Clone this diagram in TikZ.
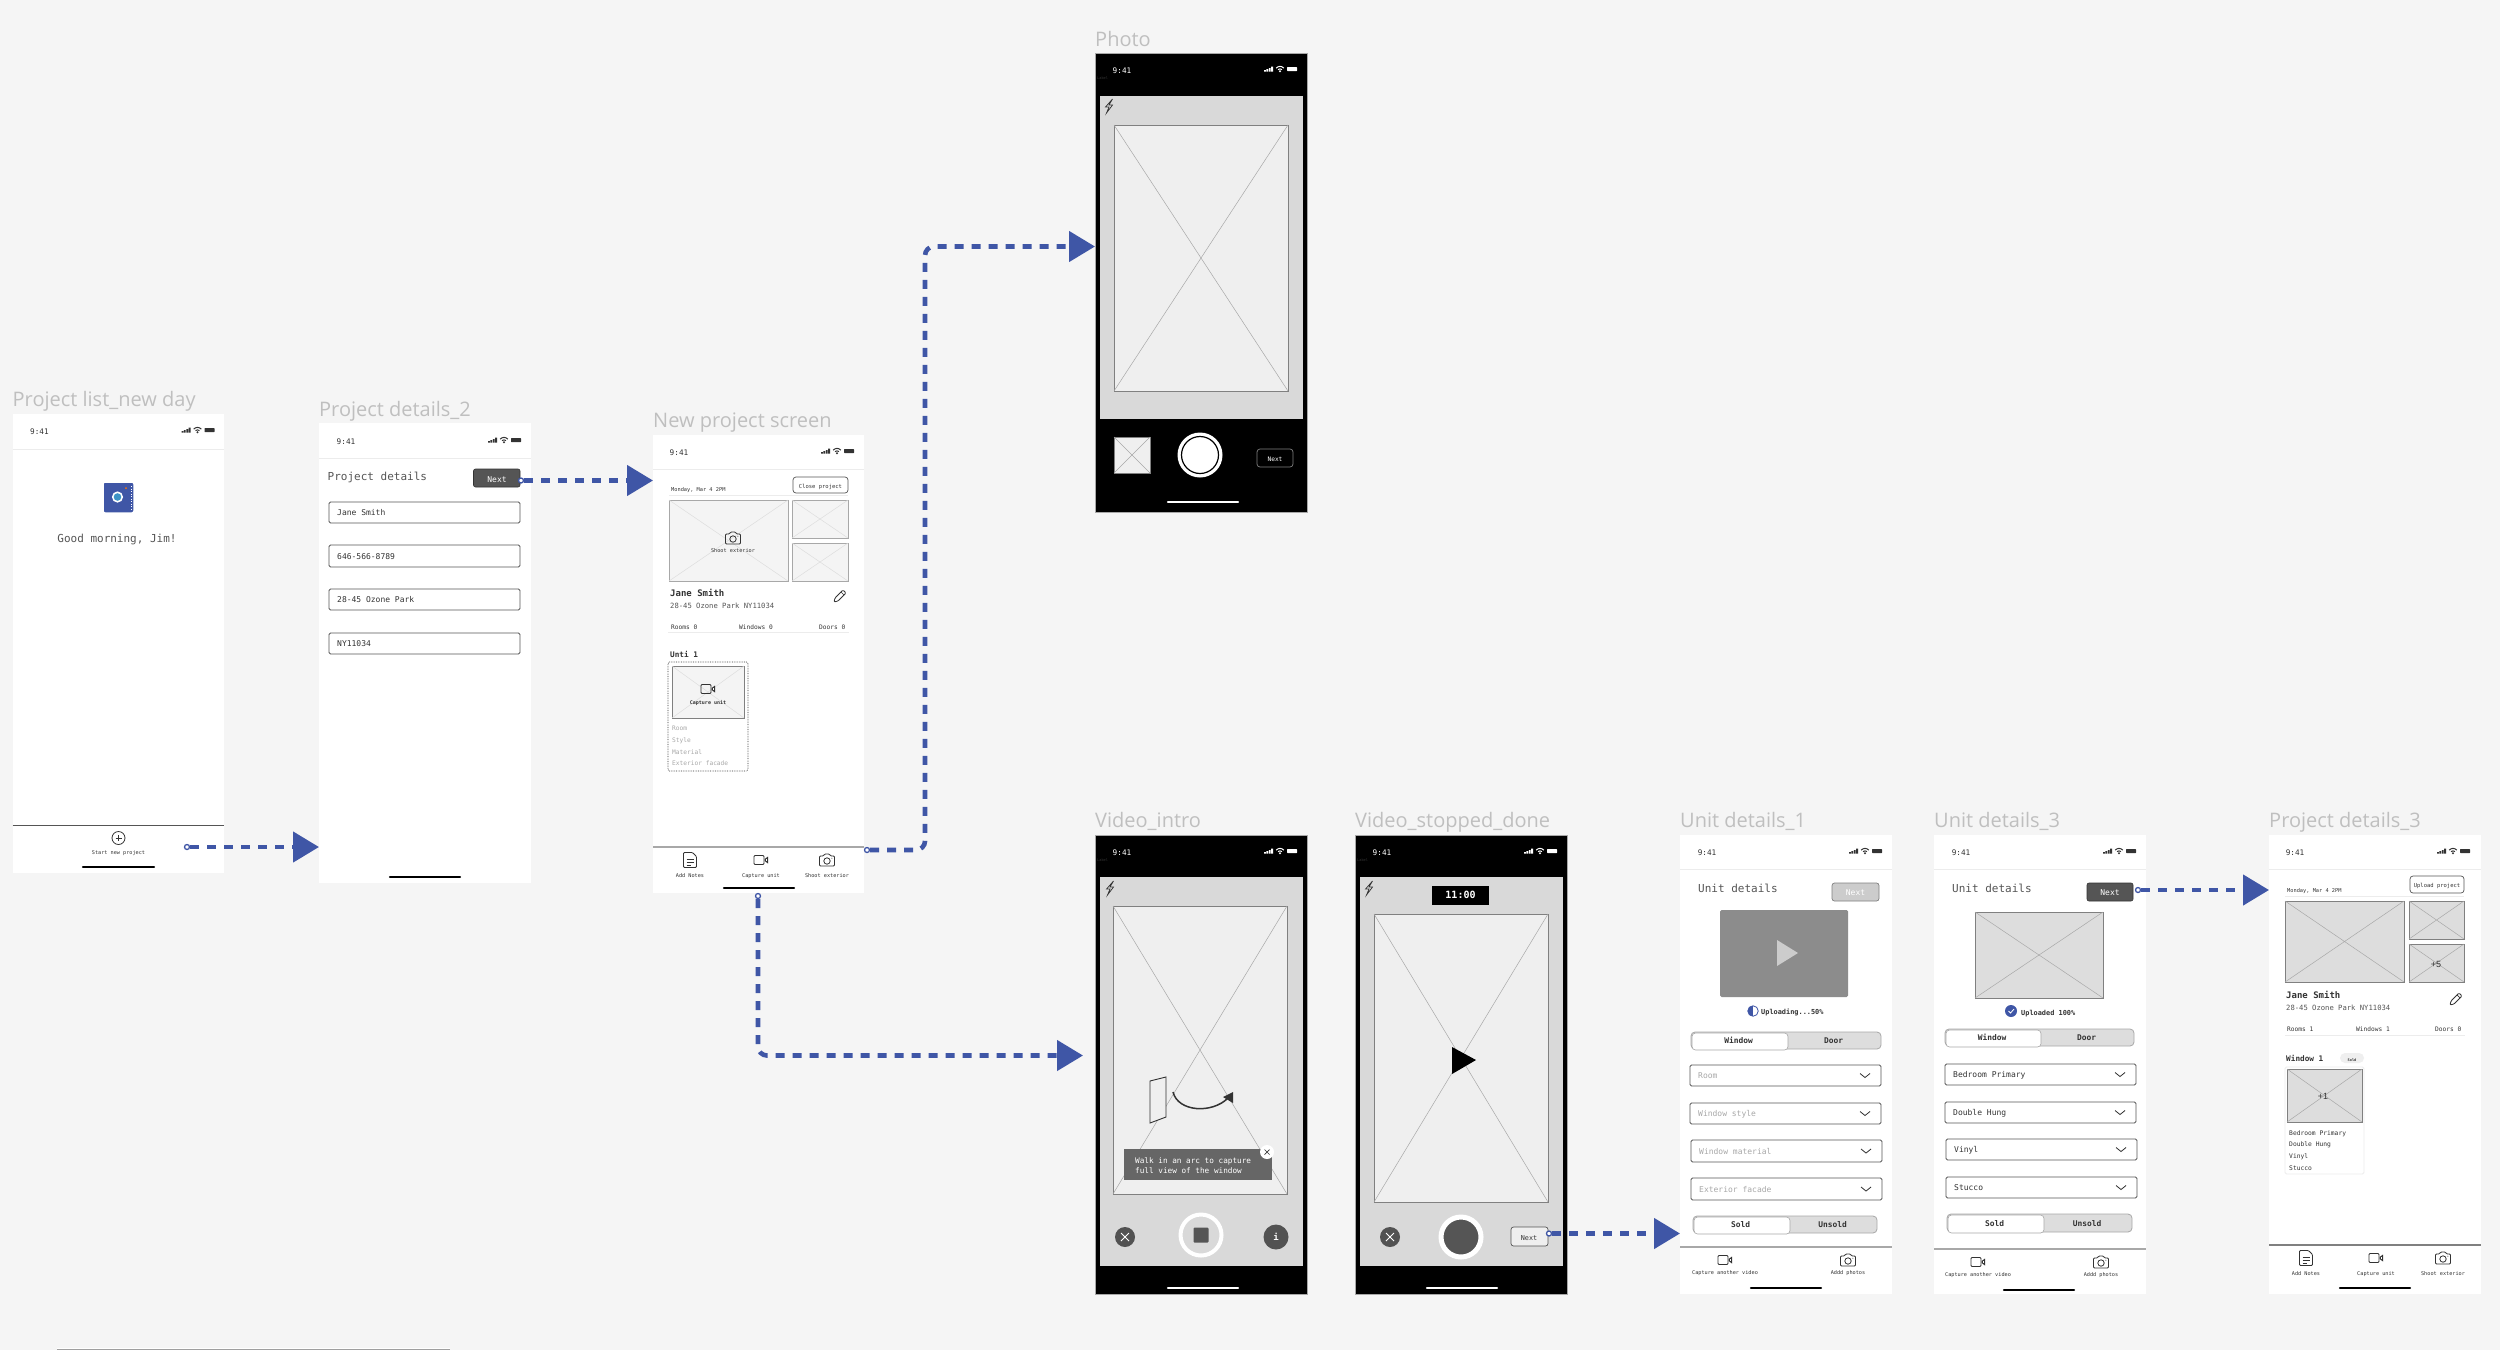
\documentclass[tikz,border=0pt]{standalone}
\usepackage{fontspec}
\setmainfont{Liberation Sans}
\newfontfamily\wfmono{DejaVu Sans Mono}
\newfontfamily\wflabel{Open Sans}
\usetikzlibrary{arrows.meta,calc}
\definecolor{canvas}{HTML}{F5F5F5}
\definecolor{flow}{HTML}{3F56A6}
\definecolor{lab}{HTML}{BFBFBF}
\definecolor{ink}{HTML}{333333}
\definecolor{soft}{HTML}{A8A8A8}
\definecolor{dk}{HTML}{555555}
\definecolor{rule}{HTML}{ECECEC}
\definecolor{pane}{HTML}{D9D9D9}
\definecolor{phlight}{HTML}{EFEFEF}
\definecolor{phpale}{HTML}{F4F4F4}
\definecolor{phmid}{HTML}{DDDDDD}
\tikzset{
  wire/.style={draw=flow,line width=4.6pt,dash pattern=on 9pt off 8pt,-{Triangle[length=26pt,width=30pt]},rounded corners=9pt},
  startdot/.style={circle,fill=white,draw=flow,line width=1.3pt,inner sep=0,minimum size=5pt},
  screenw/.style={fill=white},
  screenk/.style={fill=black,draw=soft,line width=.5pt},
  icon/.style={draw=#1,line width=.8pt,rounded corners=1pt,fill=none},
  icon/.default=ink,
  hbar/.style={line width=2.4pt,line cap=round},
  phthin/.style={line width=.5pt},
  fieldbox/.style={fill=white,draw=dk,line width=.8pt,rounded corners=1.5pt},
  btndark/.style={fill=dk,draw=ink,line width=.6pt,rounded corners=2pt},
  btnline/.style={fill=white,draw=dk,line width=.7pt,rounded corners=3pt},
}
% name, size, x, y, anchor, colour, text
\newcommand\tx[7]{\node[inner sep=0,yshift=-.6pt,anchor=#5,text=#6,font=\wfmono\fontsize{#2}{#2}\selectfont] (#1) at ({#3},{#4}) {#7};}
\newcommand\tb[7]{\node[inner sep=0,yshift=-.6pt,anchor=#5,text=#6,font=\wfmono\bfseries\fontsize{#2}{#2}\selectfont] (#1) at ({#3},{#4}) {#7};}
\newcommand\slabel[4]{\node[inner sep=0,yshift=-4.5pt,anchor=mid west,text=lab,font=\wflabel\fontsize{20}{20}\selectfont] (#1) at (#2,#3) {#4};}
% name, x1,y1,x2,y2, style
\newcommand\bx[6]{\pgfmathsetmacro\bw{#4-#2}\pgfmathsetmacro\bh{#5-#3}%
  \node[inner sep=0,outer sep=0,minimum width=\bw pt,minimum height=\bh pt,anchor=north west,#6] (#1) at ({#2},{#3}) {};}
% placeholder: name,x1,y1,x2,y2,fill,border,diagonal
\newcommand\ph[8]{\bx{#1}{#2}{#3}{#4}{#5}{fill=#6,draw=#7,line width=.8pt}%
  \draw[phthin,draw=#8] (#1.north west) -- (#1.south east) (#1.north east) -- (#1.south west);}
\newcommand\stat[4]{% prefix,x,y,colour
  \tx{#1time}{7.7}{#2+27}{#3+17}{mid}{#4}{9:41}
  \begin{scope}[shift={({#2+174},{#3+16})}]
    \fill[#4] (-5,2.5) rectangle (-3.2,1) (-2.6,2.5) rectangle (-.8,.2) (-.2,2.5) rectangle (1.6,-1) (2.2,2.5) rectangle (4,-2.5);
  \end{scope}
  \begin{scope}[shift={({#2+185},{#3+16})}]
    \draw[#4,line width=1pt] (-3.8,-.9) .. controls (-1.6,-3.2) and (1.6,-3.2) .. (3.8,-.9);
    \draw[#4,line width=1pt] (-2,.6) .. controls (-.8,-.4) and (.8,-.4) .. (2,.6);
    \fill[#4] (0,2.2) circle (1.1pt);
  \end{scope}
  \fill[#4,rounded corners=.7pt] ({#2+192},{#3+14}) rectangle ({#2+202},{#3+18.2});
}
\newcommand\camicon[2]{\begin{scope}[shift={(#1,#2)}]
  \draw[icon] (-7.5,-4) -- (-3.5,-4) -- (-2.5,-6) -- (2.5,-6) -- (3.5,-4) -- (7.5,-4) -- (7.5,6) -- (-7.5,6) -- cycle;
  \draw[icon] (0,1) circle (3.2pt);
  \fill[ink] (4.8,-1.8) circle (.5pt);
\end{scope}}
\newcommand\vidicon[2]{\begin{scope}[shift={(#1,#2)}]
  \draw[icon] (-7,-4.5) rectangle (3,4.5);
  \fill[ink] (3.6,-1) -- (7,-3.5) -- (7,3.5) -- (3.6,1) -- cycle;
  \fill[white] (5.4,-1.2) rectangle (6.3,1.2);
\end{scope}}
\newcommand\noteicon[2]{\begin{scope}[shift={(#1,#2)}]
  \draw[icon] (-6.5,-7.5) -- (2.5,-7.5) -- (6.5,-3.5) -- (6.5,7.5) -- (-6.5,7.5) -- cycle;
  \draw[ink,line width=.7pt] (-3.5,-1) -- (3.5,-1) (-3.5,2) -- (3.5,2) (-3.5,5) -- (.5,5);
\end{scope}}
\newcommand\pencil[2]{\begin{scope}[shift={(#1,#2)}]
  \draw[icon] (-6,6) -- (-5,2) -- (3,-6) -- (6,-3) -- (-2,5) -- cycle;
  \draw[ink,line width=.7pt] (1,-4) -- (4,-1);
\end{scope}}
\newcommand\flash[2]{\begin{scope}[shift={(#1,#2)}]
  \draw[ink,line width=.7pt,line join=miter] (3.5,-7) -- (-3.5,1) -- (0,1) -- (-2.5,7) -- (3.5,-1) -- (0,-1) -- cycle;
\end{scope}}
% name,x1,y1,x2,y2,text colour,text
\newcommand\field[7]{\bx{#1}{#2}{#3}{#4}{#5}{fieldbox}%
  \tx{#1t}{8}{#2+8}{(#3+#5)/2}{mid west}{#6}{#7}}
\newcommand\fieldc[7]{\field{#1}{#2}{#3}{#4}{#5}{#6}{#7}%
  \draw[ink,line width=.8pt] ($(#1.east)+(-21,-2)$) -- ($(#1.east)+(-16,2)$) -- ($(#1.east)+(-11,-2)$);}
% name,x1,y1,x2,y2,split,left,right
\newcommand\toggle[8]{\bx{#1}{#2}{#3}{#4}{#5}{fill=phmid,draw=soft,line width=.8pt,rounded corners=4pt}%
  \bx{#1w}{#2+1}{#3+1}{#6}{#5-1}{fill=white,draw=soft,line width=.6pt,rounded corners=3.5pt}%
  \tb{#1l}{7.9}{(#2+#6)/2}{(#3+#5)/2}{mid}{ink}{#7}
  \tb{#1r}{7.9}{(#6+#4)/2}{(#3+#5)/2}{mid}{ink}{#8}}
\begin{document}
\begin{tikzpicture}[x=1pt,y=-1pt]
\path[use as bounding box,fill=canvas] (0,0) rectangle (2500,1350);
\fill[white] (57,1348) rectangle (450,1349);
\fill[gray!75] (57,1348.6) rectangle (450,1350);

%%% Screen 1
\slabel{l1}{12.5}{399}{Project list\_new day}
\bx{s1}{12.5}{414}{224}{873}{screenw}
\stat{a}{12.5}{414}{ink}
\draw[rule,line width=1pt] (12.5,449) -- (224,449);
\bx{logo}{103}{482}{134}{513}{fill=flow,draw=white,line width=1.5pt,rounded corners=2pt}
\fill[white] (117.5,497) circle (5.6pt);
\fill[cyan!55!flow] (117.5,497) circle (3.8pt);
\fill[orange!90!red] (126,488) circle (1pt);
\draw[white,line width=.7pt,dash pattern=on 1pt off 1.5pt] (131.5,486) -- (131.5,510);
\tx{a1}{11}{117}{539}{mid}{dk}{Good morning, Jim!}
\draw[dk,line width=1pt] (12.5,825) -- (224,825);
\node[circle,draw=ink,line width=.8pt,inner sep=0,minimum size=13pt] (aplus) at (118.5,838) {};
\draw[ink,line width=.7pt] (115.5,838) -- (121.5,838) (118.5,835) -- (118.5,841);
\tx{a2}{5.2}{118.5}{851}{mid}{ink}{Start new project}
\draw[hbar] (83,867) -- (154,867);

%%% Screen 2
\slabel{l2}{319}{409}{Project details\_2}
\bx{s2}{319}{423}{531}{883}{screenw}
\stat{b}{319}{424}{ink}
\draw[rule,line width=1pt] (319,458) -- (531,458);
\tx{b1}{11}{327.5}{477}{mid west}{dk}{Project details}
\bx{bnext}{473.5}{469}{520}{487}{btndark}
\tx{b2}{8}{497}{479}{mid}{white}{Next}
\field{bf1}{329}{502}{520}{523}{ink}{Jane Smith}
\field{bf2}{329}{545}{520}{567}{ink}{646-566-8789}
\field{bf3}{329}{589}{520}{610}{ink}{28-45 Ozone Park}
\field{bf4}{329}{633}{520}{654}{ink}{NY11034}
\draw[hbar] (390,877) -- (460,877);

%%% Screen 3
\slabel{l3}{653}{420}{New project screen}
\bx{s3}{653}{435}{864}{893}{screenw}
\stat{c}{652}{435}{ink}
\draw[rule,line width=1pt] (653,469) -- (864,469);
\tx{c1}{5.3}{671}{488}{mid west}{ink}{Monday, Mar 4 2PM}
\bx{cbtn}{793}{477}{848}{493}{btnline}
\tx{c2}{5.5}{820.5}{485}{mid}{ink}{Close project}
\draw[rule,line width=1pt] (669,495.5) -- (848,495.5);
\ph{cp1}{669}{500}{788}{581}{phpale}{soft}{phmid}
\ph{cp2}{792}{500}{848}{538}{phpale}{soft}{phmid}
\ph{cp3}{792}{543}{848}{581}{phpale}{soft}{phmid}
\camicon{733}{538}
\tx{c3}{5.2}{733}{549}{mid}{ink}{Shoot exterior}
\tb{c4}{9}{670}{593}{mid west}{ink}{Jane Smith}
\tx{c5}{7.2}{670}{605}{mid west}{dk}{28-45 Ozone Park NY11034}
\pencil{840}{596}
\tx{c6}{6.2}{671}{626}{mid west}{ink}{Rooms 0}
\tx{c7}{6.2}{739}{626}{mid west}{ink}{Windows 0}
\tx{c8}{6.2}{819}{626}{mid west}{ink}{Doors 0}
\draw[rule,line width=1pt] (668,632.5) -- (849,632.5);
\tb{c9}{7.7}{670}{654}{mid west}{ink}{Unti 1}
\bx{cdot}{668}{662}{748}{771}{draw=ink,line width=.7pt,densely dotted,rounded corners=1.5pt}
\ph{cp4}{672}{666}{744}{718}{phpale}{gray}{phmid}
\vidicon{708}{689}
\tb{c10}{5}{708}{701}{mid}{ink}{Capture unit}
\tx{c11}{6.2}{672}{727}{mid west}{soft}{Room}
\tx{c12}{6.2}{672}{739}{mid west}{soft}{Style}
\tx{c13}{6.2}{672}{751}{mid west}{soft}{Material}
\tx{c14}{6.2}{672}{762}{mid west}{soft}{Exterior facade}
\draw[soft,line width=1.4pt] (653,847) -- (864,847);
\noteicon{690}{860}
\vidicon{761}{860}
\camicon{827}{860}
\tx{c15}{5.2}{690}{874}{mid}{ink}{Add Notes}
\tx{c16}{5.2}{761}{874}{mid}{ink}{Capture unit}
\tx{c17}{5.2}{827}{874}{mid}{ink}{Shoot exterior}
\draw[hbar] (724,888) -- (794,888);

%%% Photo
\slabel{l4}{1095}{39}{Photo}
\bx{s4}{1095}{53}{1307}{512}{screenk}
\stat{d}{1095}{53}{white}
\tx{dl}{3.6}{1097}{76}{mid west}{ink}{Label}
\bx{dpane}{1100}{96}{1303}{419}{fill=pane}
\ph{dp}{1114}{125}{1288}{391}{phlight}{gray}{soft}
\flash{1109}{106}
\ph{dth}{1114}{437}{1150}{473}{phlight}{gray}{soft}
\node[circle,fill=white,inner sep=0,minimum size=45pt] (dsh) at (1200,455) {};
\draw[black,line width=1.2pt] (dsh.center) circle (18.5pt);
\bx{dnext}{1257}{449}{1293}{467}{draw=gray,line width=.7pt,rounded corners=3pt}
\tx{d2}{6.2}{1275}{458}{mid}{white}{Next}
\draw[hbar,white] (1168,502) -- (1238,502);

%%% Video intro
\slabel{l5}{1095}{820}{Video\_intro}
\bx{s5}{1095}{835}{1307}{1294}{screenk}
\stat{e}{1095}{835}{white}
\tx{el}{3.6}{1097}{858}{mid west}{ink}{Label}
\bx{epane}{1100}{877}{1303}{1266}{fill=pane}
\ph{ep}{1113}{906}{1287}{1194}{phlight}{gray}{soft}
\flash{1110}{888}
\draw[ink,line width=.9pt,fill=phlight] (1150,1081) -- (1166,1077) -- (1166,1117) -- (1150,1123) -- cycle;
\draw[ink,line width=1.5pt] (1173,1092) .. controls (1178,1112) and (1212,1114) .. (1228,1098);
\fill[ink] (1233,1092) -- (1233,1103) -- (1223,1097) -- cycle;
\bx{etip}{1124}{1149}{1272}{1180}{fill=dk!90!white}
\tx{e1}{7.7}{1135}{1160}{mid west}{white}{Walk in an arc to capture}
\tx{e2}{7.7}{1135}{1170}{mid west}{white}{full view of the window}
\node[circle,fill=white,inner sep=0,minimum size=14pt] (eclose) at (1267,1152) {};
\draw[ink,line width=.7pt] (1264.5,1149.5) -- (1269.5,1154.5) (1264.5,1154.5) -- (1269.5,1149.5);
\node[circle,fill=ink!85!white,inner sep=0,minimum size=20pt] (ex) at (1125,1237) {};
\draw[white,line width=.9pt] (1121,1233) -- (1129,1241) (1121,1241) -- (1129,1233);
\node[circle,draw=white,line width=4pt,inner sep=0,minimum size=41pt] (estop) at (1201,1235) {};
\bx{esq}{1193.5}{1227.5}{1208.5}{1242.5}{fill=dk,rounded corners=1pt}
\node[circle,fill=ink!85!white,inner sep=0,minimum size=25pt] (ei) at (1276,1237) {};
\tb{e3}{9}{1276}{1237}{mid}{white}{i}
\draw[hbar,white] (1168,1288) -- (1238,1288);

%%% Video stopped
\slabel{l6}{1355}{820}{Video\_stopped\_done}
\bx{s6}{1355}{835}{1567}{1294}{screenk}
\stat{f}{1355}{835}{white}
\tx{fl}{3.6}{1357}{858}{mid west}{ink}{Label}
\bx{fpane}{1360}{877}{1563}{1266}{fill=pane}
\ph{fp}{1374}{914}{1548}{1202}{phlight}{gray}{soft}
\flash{1369}{888}
\bx{ftm}{1432}{886}{1489}{905}{fill=black}
\tb{f1}{10}{1460.5}{895.5}{mid}{white}{11:00}
\fill[black] (1452,1047) -- (1452,1074) -- (1476,1060) -- cycle;
\node[circle,fill=ink!85!white,inner sep=0,minimum size=20pt] (fx) at (1390,1237) {};
\draw[white,line width=.9pt] (1386,1233) -- (1394,1241) (1386,1241) -- (1394,1233);
\node[circle,fill=dk,draw=white,line width=5pt,inner sep=0,minimum size=40pt] (fsh) at (1461,1237) {};
\bx{fnext}{1511}{1227}{1548}{1246}{fill=phlight,draw=dk,line width=.7pt,rounded corners=2.5pt}
\tx{f2}{6.8}{1529}{1237}{mid}{ink}{Next}
\draw[hbar,white] (1427,1288) -- (1497,1288);

%%% Unit details 1
\slabel{l7}{1680}{820}{Unit details\_1}
\bx{s7}{1680}{835}{1892}{1294}{screenw}
\stat{g}{1680}{835}{ink}
\draw[rule,line width=1pt] (1680,869) -- (1892,869);
\tx{g1}{11}{1698}{889}{mid west}{dk}{Unit details}
\bx{gnext}{1832}{883}{1879}{901}{fill=gray!40,draw=gray,line width=.7pt,rounded corners=2.5pt}
\tx{g2}{8}{1855.5}{892}{mid}{white}{Next}
\bx{gvid}{1720}{910}{1848}{997}{fill=gray!90!white,rounded corners=1.5pt}
\fill[gray!40] (1777,940) -- (1777,966) -- (1798,953) -- cycle;
\node[circle,fill=white,draw=flow,line width=.8pt,inner sep=0,minimum size=10.5pt] (gup) at (1753,1011) {};
\fill[flow] (1753,1005.8) -- (1753,1016.2) .. controls (1746,1016.2) and (1746,1005.8) .. (1753,1005.8) -- cycle;
\tb{g3}{6.9}{1761}{1011}{mid west}{ink}{Uploading...50\%}
\toggle{gt1}{1691}{1032}{1881}{1049}{1786}{Window}{Door}
\fieldc{gf1}{1690}{1065}{1881}{1086}{soft}{Room}
\fieldc{gf2}{1690}{1103}{1881}{1124}{soft}{Window style}
\fieldc{gf3}{1691}{1140}{1882}{1162}{soft}{Window material}
\fieldc{gf4}{1691}{1178}{1882}{1200}{soft}{Exterior facade}
\toggle{gt2}{1693}{1216}{1877}{1233}{1788}{Sold}{Unsold}
\draw[soft,line width=1.4pt] (1680,1247) -- (1892,1247);
\vidicon{1725}{1260}
\camicon{1848}{1260}
\tx{g4}{5.2}{1725}{1271}{mid}{ink}{Capture another video}
\tx{g5}{5.2}{1848}{1271}{mid}{ink}{Addd photos}
\draw[hbar] (1751,1288) -- (1821,1288);

%%% Unit details 3
\slabel{l8}{1934}{820}{Unit details\_3}
\bx{s8}{1934}{835}{2146}{1294}{screenw}
\stat{h}{1934}{835}{ink}
\draw[rule,line width=1pt] (1934,869) -- (2146,869);
\tx{h1}{11}{1952}{889}{mid west}{dk}{Unit details}
\bx{hnext}{2087}{883}{2133}{901}{btndark}
\tx{h2}{8}{2110}{892}{mid}{white}{Next}
\ph{hp}{1975}{912}{2103}{998}{phmid}{gray}{soft}
\node[circle,fill=flow,inner sep=0,minimum size=12pt] (hok) at (2011,1011) {};
\draw[white,line width=.8pt] (2008.5,1011) -- (2010.5,1013) -- (2014,1009);
\tb{h3}{6.9}{2021}{1012}{mid west}{ink}{Uploaded 100\%}
\toggle{ht1}{1945}{1029}{2134}{1046}{2039}{Window}{Door}
\fieldc{hf1}{1945}{1064}{2136}{1085}{ink}{Bedroom Primary}
\fieldc{hf2}{1945}{1102}{2136}{1123}{ink}{Double Hung}
\fieldc{hf3}{1946}{1139}{2137}{1160}{ink}{Vinyl}
\fieldc{hf4}{1946}{1177}{2137}{1198}{ink}{Stucco}
\toggle{ht2}{1947}{1214}{2132}{1232}{2042}{Sold}{Unsold}
\draw[soft,line width=1.2pt] (1934,1249) -- (2146,1249);
\vidicon{1978}{1262}
\camicon{2101}{1262}
\tx{h4}{5.2}{1978}{1273}{mid}{ink}{Capture another video}
\tx{h5}{5.2}{2101}{1273}{mid}{ink}{Addd photos}
\draw[hbar] (2004,1290) -- (2074,1290);

%%% Project details 3
\slabel{l9}{2269}{820}{Project details\_3}
\bx{s9}{2269}{835}{2481}{1294}{screenw}
\stat{i}{2268}{835}{ink}
\draw[rule,line width=1pt] (2269,869) -- (2481,869);
\tx{i1}{5.3}{2287}{889}{mid west}{ink}{Monday, Mar 4 2PM}
\bx{ibtn}{2410}{876}{2464}{893}{btnline}
\tx{i2}{5.5}{2437}{884.5}{mid}{ink}{Upload project}
\draw[rule,line width=1pt] (2285,896) -- (2464,896);
\ph{ip1}{2285}{901}{2404}{982}{phmid}{gray}{soft}
\ph{ip2}{2409}{901}{2464}{939}{phmid}{gray}{soft}
\ph{ip3}{2409}{944}{2464}{982}{phmid}{gray}{soft}
\node[inner sep=0,text=ink,font=\fontsize{9}{9}\selectfont] (iplus) at (2436,964) {+5};
\tb{i4}{9}{2286}{995}{mid west}{ink}{Jane Smith}
\tx{i5}{7.2}{2286}{1007}{mid west}{dk}{28-45 Ozone Park NY11034}
\pencil{2456}{999}
\tx{i6}{6.2}{2287}{1028}{mid west}{ink}{Rooms 1}
\tx{i7}{6.2}{2356}{1028}{mid west}{ink}{Windows 1}
\tx{i8}{6.2}{2435}{1028}{mid west}{ink}{Doors 0}
\draw[rule,line width=1pt] (2285,1035) -- (2465,1035);
\tb{i9}{7.7}{2286}{1058}{mid west}{ink}{Window 1}
\bx{ipill}{2340}{1053}{2364}{1063}{fill=phlight,rounded corners=5pt}
\tb{i10}{3.6}{2352}{1058}{mid}{ink}{Sold}
\bx{icard}{2285}{1067}{2364}{1174}{fill=white,draw=rule,line width=.8pt,rounded corners=1.5pt}
\ph{ip4}{2287}{1069}{2362}{1122}{phmid}{gray}{soft}
\node[inner sep=0,text=ink,font=\fontsize{9}{9}\selectfont] (iplus2) at (2323,1096) {+1};
\tx{i11}{6.3}{2289}{1132}{mid west}{ink}{Bedroom Primary}
\tx{i12}{6.3}{2289}{1143}{mid west}{ink}{Double Hung}
\tx{i13}{6.3}{2289}{1155}{mid west}{ink}{Vinyl}
\tx{i14}{6.3}{2289}{1167}{mid west}{ink}{Stucco}
\draw[gray,line width=1.2pt] (2269,1245) -- (2481,1245);
\noteicon{2306}{1258}
\vidicon{2376}{1258}
\camicon{2443}{1258}
\tx{i15}{5.2}{2306}{1272}{mid}{ink}{Add Notes}
\tx{i16}{5.2}{2376}{1272}{mid}{ink}{Capture unit}
\tx{i17}{5.2}{2443}{1272}{mid}{ink}{Shoot exterior}
\draw[hbar] (2340,1288) -- (2410,1288);

%%% Connectors
\node[startdot] (dotA) at (187,847) {};
\coordinate (endA) at (s2.west |- 0,847);
\draw[wire] (dotA) -- (endA);

\node[startdot] (dotB) at (521,480.5) {};
\coordinate (endB) at (s3.west |- 0,480.5);
\draw[wire] (dotB) -- (endB);

\node[startdot] (dotC) at (867,850) {};
\coordinate (cornerC1) at (925,850);
\coordinate (cornerC2) at (925,246.5);
\coordinate (endC) at (s4.west |- 0,246.5);
\draw[wire] (dotC) -- (cornerC1) -- (cornerC2) -- (endC);

\node[startdot] (dotD) at (758,896) {};
\coordinate (cornerD) at (758,1055.5);
\coordinate (endD) at (1083,1055.5);
\draw[wire] (dotD) -- (cornerD) -- (endD);

\node[startdot] (dotE) at (1549,1233.5) {};
\coordinate (endE) at (s7.west |- 0,1233.5);
\draw[wire] (dotE) -- (endE);

\node[startdot] (dotF) at (2138,890) {};
\coordinate (endF) at (s9.west |- 0,890);
\draw[wire] (dotF) -- (endF);
\end{tikzpicture}
\end{document}
